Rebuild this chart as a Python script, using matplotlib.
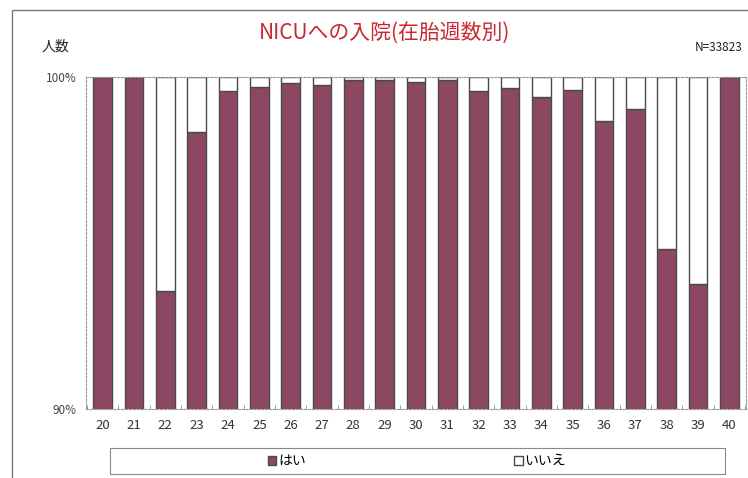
import matplotlib.pyplot as plt
from matplotlib.patches import Rectangle, Patch

plt.rcParams['font.family'] = ['Noto Sans CJK JP', 'DejaVu Sans']

weeks = ['20', '21', '22', '23', '24', '25', '26', '27', '28', '29', '30',
         '31', '32', '33', '34', '35', '36', '37', '38', '39', '40']
# はい (NICU admission) share in %
yes_pct = [100.0, 100.0, 93.55, 98.34, 99.58, 99.7, 99.82, 99.76, 99.91, 99.91, 99.85,
           99.91, 99.58, 99.67, 99.4, 99.61, 98.67, 99.04, 94.82, 93.77, 100.0]
no_pct = [100 - v for v in yes_pct]

title = 'NICUへの入院(在胎週数別)'
purple = '#8c4862'
edge = '#4a4a4a'

W, H = 748, 478
fig = plt.figure(figsize=(W / 100, H / 100), dpi=100)
fig.patch.set_facecolor('white')

# outer frame of the chart
fig.patches.append(Rectangle((12 / W, -0.1), 1.2, (H - 10) / H + 0.1,
                             transform=fig.transFigure, fill=False,
                             edgecolor='#777777', linewidth=1.0))

ax = fig.add_axes([86 / W, (H - 409) / H, (746 - 86) / W, (409 - 77) / H])
x = list(range(len(weeks)))
ax.bar(x, yes_pct, width=0.6, color=purple, edgecolor=edge, linewidth=1.0, label='はい')
ax.bar(x, no_pct, width=0.6, bottom=yes_pct, color='white', edgecolor=edge,
       linewidth=1.0, label='いいえ')

ax.set_xlim(-0.53, len(weeks) - 0.47)
ax.set_ylim(90, 100)
ax.set_yticks([90, 100])
ax.set_yticklabels(['90%', '100%'])
ax.set_xticks(x)
ax.set_xticklabels(weeks)
ax.set_xticks([i + 0.5 for i in range(-1, len(weeks))], minor=True)
ax.tick_params(axis='y', length=0, pad=7, labelsize=8.5, labelcolor='#444444')
ax.tick_params(axis='x', which='major', length=0, pad=7, labelsize=9.5, labelcolor='#333333')
ax.tick_params(axis='x', which='minor', direction='in', length=3, color='#888888')
for s in ax.spines.values():
    s.set_color('#999999')
    s.set_linewidth(0.8)
    s.set_linestyle((0, (2, 1.5)))

fig.text(385 / W, 1 - 33 / H, title, color='#c8282e', fontsize=15, ha='center', va='center')
fig.text(42 / W, 1 - 47 / H, '人数', fontsize=10, color='#222222', ha='left', va='center')
fig.text(742 / W, 1 - 47 / H, 'N=33823', fontsize=8.5, color='#222222', ha='right', va='center')

# legend box
fig.patches.append(Rectangle((110 / W, (H - 474) / H), 615 / W, 26 / H,
                             transform=fig.transFigure, fill=False,
                             edgecolor='#888888', linewidth=0.8))
handles = [Patch(facecolor=purple, edgecolor=edge, label='はい'),
           Patch(facecolor='white', edgecolor=edge, label='いいえ')]
fig.legend(handles=handles, loc='center', bbox_to_anchor=(417 / W, (H - 461) / H),
           ncol=2, frameon=False, fontsize=10, handlelength=0.6, handleheight=0.6,
           handletextpad=0.15, columnspacing=15)

fig.savefig('out.png', dpi=100)
